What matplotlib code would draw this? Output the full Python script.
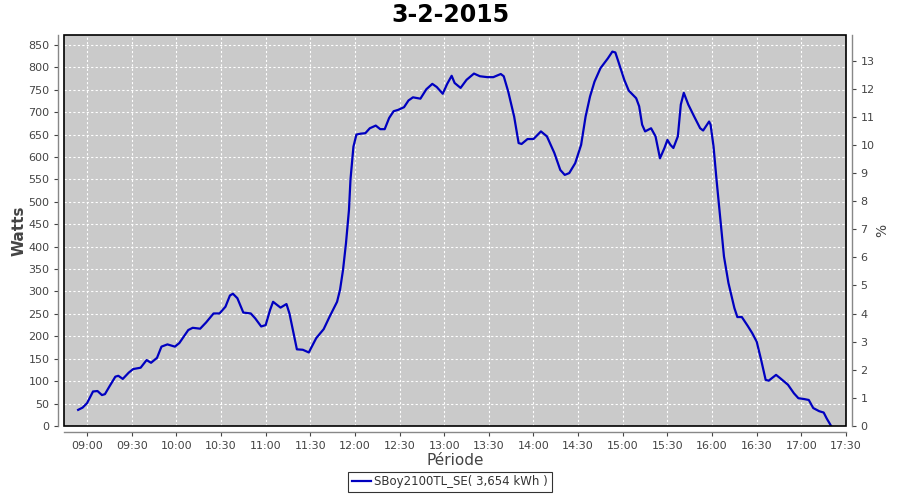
import numpy as np
import matplotlib
matplotlib.use("Agg")
import matplotlib.pyplot as plt
from matplotlib.patches import Rectangle

# Power readings (time of day, watts)
TIMES = [
    "08:54", "08:57", "09:00", "09:04", "09:07", "09:10", "09:12", "09:15", "09:19", "09:21",
    "09:24", "09:28", "09:31", "09:36", "09:40", "09:43", "09:47", "09:50", "09:54", "09:59",
    "10:02", "10:08", "10:11", "10:16", "10:20", "10:25", "10:29", "10:33", "10:36", "10:38",
    "10:41", "10:45", "10:50", "10:53", "10:57", "11:00", "11:03", "11:05", "11:10", "11:14",
    "11:16", "11:19", "11:21", "11:25", "11:29", "11:34", "11:39", "11:43", "11:48", "11:50",
    "11:52", "11:54", "11:56", "11:57", "11:59", "12:01", "12:04", "12:07", "12:10", "12:14",
    "12:17", "12:20", "12:23", "12:26", "12:29", "12:33", "12:36", "12:39", "12:44", "12:48",
    "12:52", "12:55", "12:59", "13:02", "13:05", "13:07", "13:11", "13:15", "13:20", "13:24",
    "13:29", "13:33", "13:38", "13:40", "13:43", "13:47", "13:50", "13:52", "13:56", "14:00",
    "14:05", "14:09", "14:14", "14:18", "14:21", "14:24", "14:28", "14:32", "14:35", "14:38",
    "14:41", "14:45", "14:50", "14:53", "14:55", "14:57", "15:01", "15:04", "15:09", "15:11",
    "15:13", "15:15", "15:19", "15:22", "15:25", "15:28", "15:30", "15:32", "15:34", "15:37",
    "15:39", "15:41", "15:44", "15:48", "15:52", "15:54", "15:58", "15:59", "16:01", "16:03",
    "16:06", "16:08", "16:11", "16:15", "16:17", "16:20", "16:24", "16:27", "16:30", "16:33",
    "16:36", "16:38", "16:43", "16:46", "16:51", "16:55", "16:58", "17:02", "17:05", "17:08",
    "17:12", "17:15", "17:17", "17:20",
]
WATTS = [
    36, 41, 51, 77, 78, 69, 71, 88, 110, 112,
    105, 119, 127, 130, 147, 141, 152, 177, 182, 177,
    185, 214, 219, 217, 231, 251, 251, 266, 291, 295,
    285, 253, 251, 240, 222, 225, 259, 277, 264, 272,
    251, 203, 171, 170, 164, 196, 216, 244, 277, 304,
    348, 408, 482, 549, 623, 650, 652, 653, 664, 670,
    662, 662, 687, 702, 705, 711, 726, 733, 730, 751,
    763, 756, 741, 763, 781, 765, 754, 772, 786, 780,
    778, 778, 785, 780, 746, 690, 631, 629, 640, 640,
    657, 646, 609, 571, 560, 564, 586, 627, 690, 735,
    768, 798, 820, 835, 833, 813, 772, 748, 731, 713,
    672, 657, 664, 646, 597, 620, 638, 627, 620, 646,
    717, 743, 717, 690, 664, 659, 679, 672, 623, 549,
    445, 378, 319, 263, 243, 243, 223, 207, 188, 147,
    103, 101, 114, 106, 92, 73, 62, 60, 58, 40,
    33, 30, 17, 0,
]
TICK_LABELS = ["09:00", "09:30", "10:00", "10:30", "11:00", "11:30", "12:00", "12:30",
               "13:00", "13:30", "14:00", "14:30", "15:00", "15:30", "16:00", "16:30",
               "17:00", "17:30"]
LEGEND = "SBoy2100TL_SE( 3,654 kWh )"


def to_hours(s):
    h, m = s.split(":")
    return int(h) + int(m) / 60.0


x = np.array([to_hours(t) for t in TIMES])
y = np.array(WATTS)
ticks = [to_hours(t) for t in TICK_LABELS]

W_PER_PCT = 62.7
YMAX = 872

fig = plt.figure(figsize=(9, 5), dpi=100)
ax = fig.add_axes([64 / 900, 74 / 500, 782 / 900, 391 / 500])
ax.set_facecolor("#cacaca")

ax.plot(x, y, color="#0000c0", linewidth=1.6, label=LEGEND, zorder=3)

ax.set_xlim(to_hours("08:44") + 0.5 / 60, to_hours("17:30"))
ax.set_ylim(0, YMAX)
ax.set_xticks(ticks)
ax.set_xticklabels(TICK_LABELS)
ax.set_yticks(np.arange(0, 851, 50))
ax.grid(True, color="white", linestyle=(0, (2, 2)), linewidth=0.8, zorder=1)

ax2 = ax.twinx()
ax2.set_ylim(0, YMAX / W_PER_PCT)
ax2.set_yticks(np.arange(0, 14, 1))

tick_grey = "#444444"
for a in (ax, ax2):
    for side in ("top", "right", "left", "bottom"):
        a.spines[side].set_visible(False)
    a.tick_params(colors=tick_grey, labelsize=8, length=3, width=0.8)

ax.spines["left"].set_visible(True)
ax.spines["bottom"].set_visible(True)
ax.spines["left"].set_position(("outward", 4))
ax.spines["bottom"].set_position(("outward", 4))
ax2.spines["right"].set_visible(True)
ax2.spines["right"].set_position(("outward", 4))
for sp in (ax.spines["left"], ax.spines["bottom"], ax2.spines["right"]):
    sp.set_color("#888888")
    sp.set_linewidth(1)

# plot outline
ax.add_patch(Rectangle((0, 0), 1, 1, transform=ax.transAxes, fill=False,
                       edgecolor="black", linewidth=1.2, zorder=5, clip_on=False))

ax.set_ylabel("Watts", fontsize=11, fontweight="bold", color="#444444")
ax.yaxis.set_label_coords(-0.048, 0.5)
ax.set_xlabel("Période", fontsize=11, color="#444444")
ax.xaxis.set_label_coords(0.5, -0.068)
ax2.set_ylabel("%", fontsize=10, color="#444444")
ax2.yaxis.set_label_coords(1.038, 0.5)

fig.suptitle("3-2-2015", fontsize=17, fontweight="bold", y=0.995)

leg = fig.legend(loc="lower center", bbox_to_anchor=(0.5, 0.005), fontsize=8.5,
                 frameon=True, fancybox=False, edgecolor="black", handlelength=1.6,
                 borderpad=0.3, handletextpad=0.3)
leg.get_frame().set_linewidth(0.8)
for t in leg.get_texts():
    t.set_color("#333333")

fig.savefig("out.png", dpi=100)
